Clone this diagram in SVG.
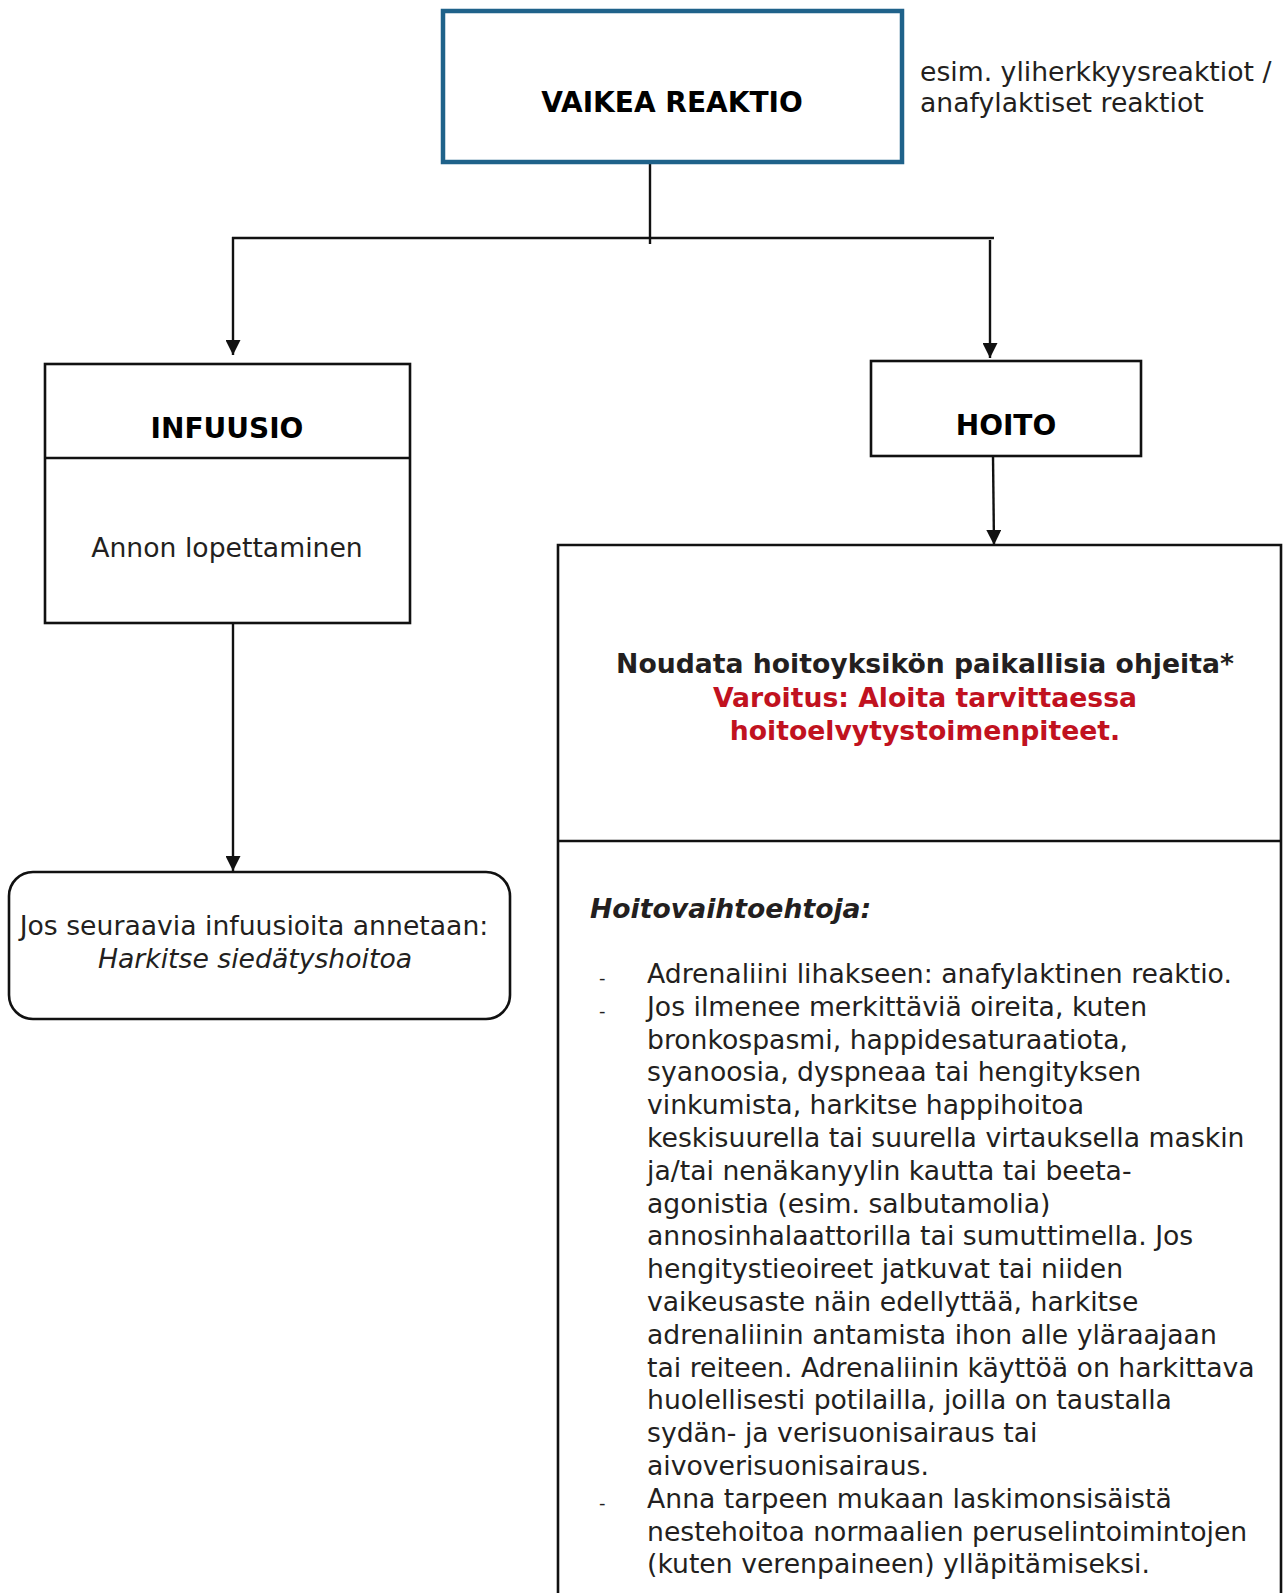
<svg xmlns="http://www.w3.org/2000/svg" width="1284" height="1593" viewBox="0 0 1284 1593">
<style>
text{font-family:"DejaVu Sans","Verdana",sans-serif;font-size:26.67px;fill:#231f20}
.b{font-weight:bold}
.h{font-size:28px;fill:#000}
.c{text-anchor:middle}
.red{fill:#c1121f}
.box{fill:#fff;stroke:#111;stroke-width:2.6}
.con{fill:none;stroke:#111;stroke-width:2.4}
.dash{font-size:18px}
</style>
<defs>
<marker id="ah" markerUnits="userSpaceOnUse" markerWidth="15" markerHeight="15" refX="15" refY="7.5" orient="auto">
<path d="M0,0 L15,7.5 L0,15 z" fill="#111"/>
</marker>
</defs>
<rect width="1284" height="1593" fill="#fff"/>

<g id="connectors">
<line class="con" x1="650" y1="163" x2="650" y2="244"/>
<line class="con" x1="232" y1="238" x2="994" y2="238"/>
<line class="con" x1="233" y1="237" x2="233" y2="355" marker-end="url(#ah)"/>
<line class="con" x1="990" y1="240" x2="990" y2="358" marker-end="url(#ah)"/>
<line class="con" x1="233" y1="621" x2="233" y2="871" marker-end="url(#ah)"/>
<line class="con" x1="993" y1="456" x2="994" y2="545" marker-end="url(#ah)"/>
</g>

<g id="vaikea">
<rect x="443" y="11" width="459" height="151" fill="#fff" stroke="#1f628a" stroke-width="4.5"/>
<text class="b c h" x="672" y="112">VAIKEA REAKTIO</text>
</g>

<g id="note">
<text x="920" y="81" font-size="26.9">esim. yliherkkyysreaktiot /</text>
<text x="920" y="112" font-size="26.9">anafylaktiset reaktiot</text>
</g>

<g id="infuusio">
<rect class="box" x="45" y="364" width="365" height="259"/>
<line class="con" x1="45" y1="458" x2="410" y2="458"/>
<text class="b c h" x="227" y="438">INFUUSIO</text>
<text class="c" x="227" y="557">Annon lopettaminen</text>
</g>

<g id="seuraavia">
<rect class="box" x="9" y="872" width="501" height="147" rx="24" ry="24"/>
<text class="c" x="254" y="935">Jos seuraavia infuusioita annetaan:</text>
<text class="c" x="255" y="968" font-style="italic">Harkitse siedätyshoitoa</text>
</g>

<g id="hoito">
<rect class="box" x="871" y="361" width="270" height="95"/>
<text class="b c h" x="1006" y="435">HOITO</text>
</g>

<g id="ohjeet">
<path class="box" d="M558,1600 L558,545 L1281,545 L1281,1600" fill="#fff"/>
<line class="con" x1="558" y1="841" x2="1281" y2="841" stroke-width="3"/>
<text class="b c" x="925" y="673">Noudata hoitoyksikön paikallisia ohjeita*</text>
<text class="b c red" x="925" y="707">Varoitus: Aloita tarvittaessa</text>
<text class="b c red" x="925" y="740">hoitoelvytystoimenpiteet.</text>
<text class="b" x="590" y="918" font-style="italic">Hoitovaihtoehtoja:</text>
<text class="dash" x="599" y="984">-</text>
<text class="dash" x="599" y="1017">-</text>
<text class="dash" x="599" y="1509">-</text>
<text x="647" y="983">
<tspan x="647" dy="0">Adrenaliini lihakseen: anafylaktinen reaktio.</tspan>
<tspan x="647" dy="32.8">Jos ilmenee merkittäviä oireita, kuten</tspan>
<tspan x="647" dy="32.8">bronkospasmi, happidesaturaatiota,</tspan>
<tspan x="647" dy="32.8">syanoosia, dyspneaa tai hengityksen</tspan>
<tspan x="647" dy="32.8">vinkumista, harkitse happihoitoa</tspan>
<tspan x="647" dy="32.8">keskisuurella tai suurella virtauksella maskin</tspan>
<tspan x="647" dy="32.8">ja/tai nenäkanyylin kautta tai beeta-</tspan>
<tspan x="647" dy="32.8">agonistia (esim. salbutamolia)</tspan>
<tspan x="647" dy="32.8">annosinhalaattorilla tai sumuttimella. Jos</tspan>
<tspan x="647" dy="32.8">hengitystieoireet jatkuvat tai niiden</tspan>
<tspan x="647" dy="32.8">vaikeusaste näin edellyttää, harkitse</tspan>
<tspan x="647" dy="32.8">adrenaliinin antamista ihon alle yläraajaan</tspan>
<tspan x="647" dy="32.8">tai reiteen. Adrenaliinin käyttöä on harkittava</tspan>
<tspan x="647" dy="32.8">huolellisesti potilailla, joilla on taustalla</tspan>
<tspan x="647" dy="32.8">sydän- ja verisuonisairaus tai</tspan>
<tspan x="647" dy="32.8">aivoverisuonisairaus.</tspan>
<tspan x="647" dy="32.8">Anna tarpeen mukaan laskimonsisäistä</tspan>
<tspan x="647" dy="32.8">nestehoitoa normaalien peruselintoimintojen</tspan>
<tspan x="647" dy="32.8">(kuten verenpaineen) ylläpitämiseksi.</tspan>
</text>
</g>
</svg>
